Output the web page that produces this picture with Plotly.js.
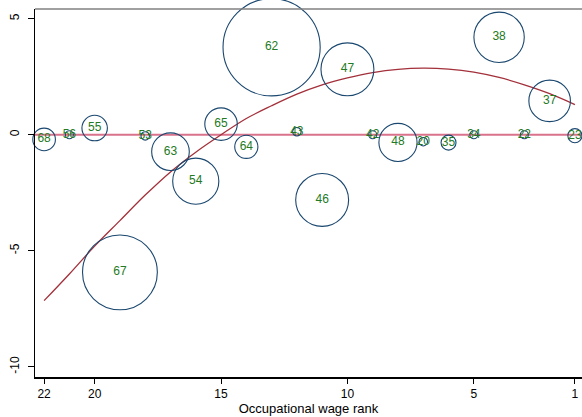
<!DOCTYPE html>
<html>
<head>
<meta charset="utf-8">
<script src="https://cdn.plot.ly/plotly-3.0.1.min.js"></script>
<style>html,body{margin:0;padding:0;background:#fff}#chart{width:582px;height:417px}</style>
</head>
<body>
<div id="chart"></div>
<script>
// Occupational wage rank (1 = highest) for each bubble
var ranks   = [22, 21, 20, 19, 18, 17, 16, 15, 14, 13, 12, 11, 10, 9, 8, 7, 6, 5, 4, 3, 2, 1];
// Vertical value of each bubble
var values  = [-0.2, 0.0, 0.29, -5.93, -0.05, -0.73, -2.0, 0.46, -0.52, 3.77, 0.13, -2.81, 2.82, 0.0, -0.33, -0.3, -0.34, 0.0, 4.2, 0.0, 1.46, -0.04];
// Bubble labels (occupation codes)
var labels  = ["68", "56", "55", "67", "53", "63", "54", "65", "64", "62", "43", "46", "47", "42", "48", "20", "35", "34", "38", "22", "37", "23"];
// Bubble weights (area)
var weights = [0.64, 0.06, 0.81, 7.0, 0.09, 1.77, 2.66, 1.32, 0.67, 11.8, 0.09, 3.5, 3.5, 0.06, 1.82, 0.09, 0.28, 0.06, 3.17, 0.06, 2.16, 0.25];
// Fitted curve
var fitRanks  = [22, 21, 20, 19, 18, 17, 16, 15, 14, 13, 12, 11, 10, 9, 8, 7, 6, 5, 4, 3, 2, 1];
var fitValues = [-7.15, -6.0, -4.8, -3.7, -2.6, -1.6, -0.75, 0.0, 0.7, 1.25, 1.75, 2.15, 2.45, 2.68, 2.82, 2.87, 2.83, 2.7, 2.47, 2.15, 1.77, 1.3];
// Axis ticks
var xTicks = [22, 20, 15, 10, 5, 1];
var yTicks = [-10, -5, 0, 5];
var zeroLine = [0, 0];
var zeroX = [22.36, 0.72];

var traces = [
  {x: zeroX, y: zeroLine, mode: 'lines', line: {color: '#d9728b', width: 2}, hoverinfo: 'skip', showlegend: false},
  {x: fitRanks, y: fitValues, mode: 'lines', line: {color: '#a3303a', width: 1.3, shape: 'spline'}, hoverinfo: 'skip', showlegend: false},
  {x: ranks, y: values, mode: 'markers+text', text: labels, textposition: 'middle center',
   textfont: {family: 'Liberation Sans, Arial, sans-serif', size: 12, color: '#237a23'},
   marker: {size: weights, sizemode: 'area', sizeref: 0.0025, sizemin: 4, opacity: 1,
            color: 'rgba(0,0,0,0)', line: {color: '#1a476f', width: 1.1}},
   showlegend: false, cliponaxis: false}
];

var layout = {
  width: 582, height: 417,
  margin: {l: 35, r: 0, t: 9, b: 40},
  paper_bgcolor: '#fff', plot_bgcolor: '#fff',
  font: {family: 'Liberation Sans, Arial, sans-serif', size: 12, color: '#000'},
  xaxis: {
    range: [22.36, 0.72], tickvals: xTicks, ticktext: xTicks.map(String),
    showgrid: false, zeroline: false, showline: true, linecolor: '#000', linewidth: 1.5,
    ticks: 'outside', ticklen: 5, tickcolor: '#000', tickwidth: 1,
    tickfont: {size: 12},
    title: {text: 'Occupational wage rank', font: {size: 13}, standoff: 2}
  },
  yaxis: {
    range: [-10.44, 5.42], tickvals: yTicks, ticktext: yTicks.map(String),
    showgrid: false, zeroline: false, showline: true, linecolor: '#000', linewidth: 1.5,
    ticks: 'outside', ticklen: 6, tickcolor: '#000', tickwidth: 1,
    tickangle: -90, tickfont: {size: 12}, ticklabelstandoff: 4
  },
  shapes: [
    {type: 'line', xref: 'paper', yref: 'paper', x0: 0, x1: 1, y0: 1, y1: 1,
     line: {color: '#808080', width: 1.5}}
  ]
};

Plotly.newPlot('chart', traces, layout, {displayModeBar: false, staticPlot: true});
</script>
</body>
</html>
